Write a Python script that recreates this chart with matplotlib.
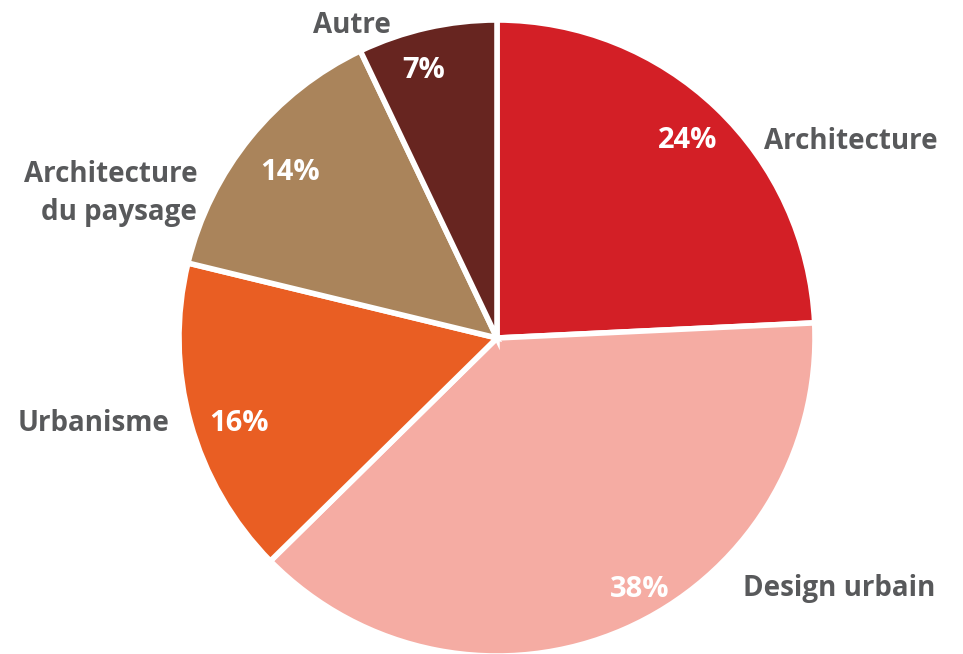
import matplotlib.pyplot as plt
import numpy as np

plt.rcParams['font.family'] = ['Open Sans', 'DejaVu Sans']

categories = ['Architecture', 'Design urbain', 'Urbanisme',
              'Architecture\ndu paysage', 'Autre']
values = [24, 38, 16, 14, 7]
colors = ['#d31f26', '#f5aca3', '#e95e23', '#aa845b', '#672520']

# label placement (in pie radius units) and alignment
label_pos = [(1.114, 0.619), (1.075, -0.787), (-1.27, -0.268), (-0.943, 0.455), (-0.456, 0.984)]
label_ha = ['center', 'center', 'center', 'right', 'center']
pct_pos = [(0.60, 0.62), (0.45, -0.79), (-0.81, -0.27), (-0.65, 0.52), (-0.23, 0.84)]

fig = plt.figure(figsize=(9.63, 6.54), dpi=100)
cx, cy, r = 497, 338, 318
ax = fig.add_axes([(cx - r) / 963, (654 - cy - r) / 654, 2 * r / 963, 2 * r / 654])

wedges, texts, autotexts = ax.pie(
    values, colors=colors, startangle=90, counterclock=False,
    autopct='%d%%', pctdistance=0.87,
    wedgeprops=dict(edgecolor='white', linewidth=4),
    textprops=dict(color='white', fontsize=21, fontweight='bold'))

for t, v, p in zip(autotexts, values, pct_pos):
    t.set_text(f'{v}%')
    t.set_position(p)

for name, (x, y), ha in zip(categories, label_pos, label_ha):
    ax.text(x, y, name, ha=ha, va='center', fontsize=20, fontweight='bold',
            color='#58595b', linespacing=1.4)

ax.set_xlim(-1, 1)
ax.set_ylim(-1, 1)
ax.set_aspect('equal')
ax.axis('off')

fig.savefig('out.png', dpi=100)
